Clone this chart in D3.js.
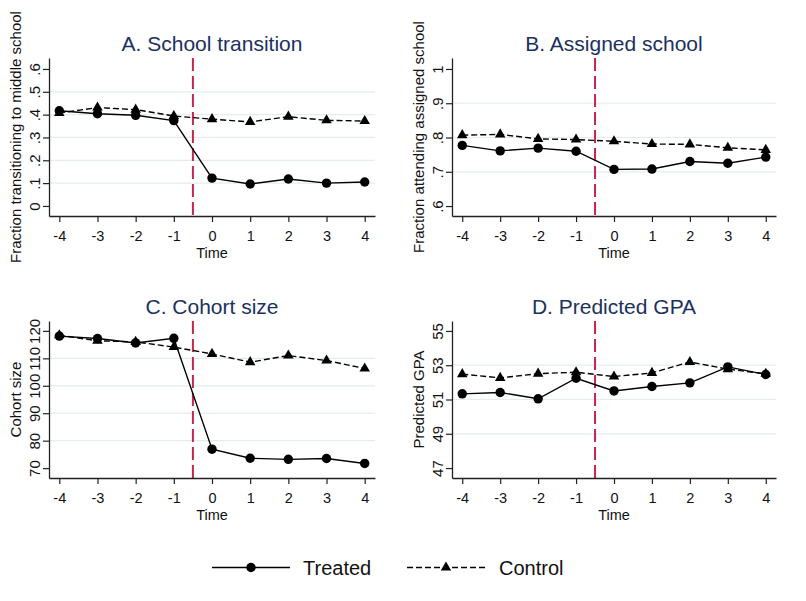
<!DOCTYPE html>
<html>
<head>
<meta charset="utf-8">
<script src="https://cdn.jsdelivr.net/npm/d3@7"></script>
<style>
  html, body { margin: 0; padding: 0; background: #fff; }
  svg { display: block; font-family: "Liberation Sans", Arial, sans-serif; }
</style>
</head>
<body>
<svg id="chart" width="806" height="601"></svg>
<script>
// ---- Data ----
const times = [-4, -3, -2, -1, 0, 1, 2, 3, 4];

const panelTitles = ["A. School transition", "B. Assigned school", "C. Cohort size", "D. Predicted GPA"];
const yTitles = ["Fraction transitioning to middle school", "Fraction attending assigned school", "Cohort size", "Predicted GPA"];

const treatedA = [0.417, 0.404, 0.397, 0.374, 0.122, 0.096, 0.118, 0.100, 0.105];
const controlA = [0.407, 0.431, 0.422, 0.394, 0.380, 0.368, 0.391, 0.375, 0.372];

const treatedB = [0.777, 0.761, 0.769, 0.760, 0.707, 0.708, 0.730, 0.725, 0.743];
const controlB = [0.807, 0.809, 0.796, 0.794, 0.789, 0.781, 0.780, 0.770, 0.764];

const treatedC = [118.1, 117.2, 115.6, 117.3, 76.9, 73.6, 73.2, 73.5, 71.7];
const controlC = [118.4, 116.4, 116.0, 114.1, 111.6, 108.6, 111.0, 109.2, 106.3];

const treatedD = [51.33, 51.41, 51.04, 52.24, 51.50, 51.76, 51.97, 52.90, 52.46];
const controlD = [52.48, 52.26, 52.51, 52.59, 52.34, 52.55, 53.19, 52.77, 52.50];

const yTicksA = [0, 0.1, 0.2, 0.3, 0.4, 0.5, 0.6];
const yTickLabelsA = ["0", ".1", ".2", ".3", ".4", ".5", ".6"];
const yTicksB = [0.6, 0.7, 0.8, 0.9, 1];
const yTickLabelsB = [".6", ".7", ".8", ".9", "1"];
const yTicksC = [70, 80, 90, 100, 110, 120];
const yTickLabelsC = ["70", "80", "90", "100", "110", "120"];
const yTicksD = [47, 49, 51, 53, 55];
const yTickLabelsD = ["47", "49", "51", "53", "55"];

const eventTime = -0.5;
const legendLabels = ["Treated", "Control"];

// ---- Layout ----
const svg = d3.select("#chart");
const titleColor = "#1b3160";
const gridColor = "#e3ecef";
const refColor = "#c8264e";

const panels = [
  { title: panelTitles[0], ytitle: yTitles[0], treated: treatedA, control: controlA, ticks: yTicksA, labels: yTickLabelsA,
    ydom: [-0.044, 0.648], x0: 49, x1: 375, y0: 58, y1: 216 },
  { title: panelTitles[1], ytitle: yTitles[1], treated: treatedB, control: controlB, ticks: yTicksB, labels: yTickLabelsB,
    ydom: [0.571, 1.032], x0: 452, x1: 776, y0: 58, y1: 216 },
  { title: panelTitles[2], ytitle: yTitles[2], treated: treatedC, control: controlC, ticks: yTicksC, labels: yTickLabelsC,
    ydom: [66.4, 123.6], x0: 49, x1: 375, y0: 321, y1: 478 },
  { title: panelTitles[3], ytitle: yTitles[3], treated: treatedD, control: controlD, ticks: yTicksD, labels: yTickLabelsD,
    ydom: [46.42, 55.58], x0: 452, x1: 776, y0: 321, y1: 478 }
];

const circleSym = d3.symbol().type(d3.symbolCircle).size(70);
const triSym = d3.symbol().type(d3.symbolTriangle).size(48);

panels.forEach(p => {
  const x = d3.scaleLinear().domain([-4.27, 4.27]).range([p.x0, p.x1]);
  const y = d3.scaleLinear().domain(p.ydom).range([p.y1, p.y0]);
  const g = svg.append("g");

  // gridlines (interior ticks only)
  g.append("g").selectAll("line")
    .data(p.ticks.slice(1, -1))
    .join("line")
    .attr("x1", p.x0).attr("x2", p.x1)
    .attr("y1", d => y(d)).attr("y2", d => y(d))
    .attr("stroke", gridColor).attr("stroke-width", 1.2);

  // reference line
  g.append("line")
    .attr("x1", x(eventTime)).attr("x2", x(eventTime))
    .attr("y1", p.y0).attr("y2", p.y1)
    .attr("stroke", refColor).attr("stroke-width", 2)
    .attr("stroke-dasharray", "13,5");

  // x axis
  const xAxis = d3.axisBottom(x).tickValues(times).tickSize(6).tickSizeOuter(0)
    .tickFormat(d3.format("d"));
  const gx = g.append("g").attr("transform", `translate(0,${p.y1})`).call(xAxis);
  gx.select(".domain").attr("stroke", "#222").attr("stroke-width", 1.3);
  gx.selectAll(".tick line").attr("stroke", "#222").attr("stroke-width", 1.2);
  gx.selectAll(".tick text")
    .attr("y", 25).attr("dy", 0)
    .attr("font-size", 14.5).attr("fill", "#111")
    .attr("font-family", "Liberation Sans, Arial, sans-serif")
    .text(d => d < 0 ? "-" + Math.abs(d) : String(d));

  g.append("text")
    .attr("x", (p.x0 + p.x1) / 2).attr("y", p.y1 + 41.5)
    .attr("text-anchor", "middle").attr("font-size", 14.5).attr("fill", "#111")
    .text("Time");

  // y axis
  const yAxis = d3.axisLeft(y).tickValues(p.ticks).tickSize(6).tickSizeOuter(0)
    .tickFormat((d, i) => p.labels[i]);
  const gy = g.append("g").attr("transform", `translate(${p.x0},0)`).call(yAxis);
  gy.select(".domain").attr("stroke", "#222").attr("stroke-width", 1.3);
  gy.selectAll(".tick line").attr("stroke", "#222").attr("stroke-width", 1.2);
  gy.selectAll(".tick text")
    .attr("transform", "rotate(-90)")
    .attr("x", 0).attr("y", -9.5).attr("dy", 0)
    .attr("text-anchor", "middle")
    .attr("font-size", 15).attr("fill", "#111")
    .attr("font-family", "Liberation Sans, Arial, sans-serif");

  g.append("text")
    .attr("transform", `translate(${p.x0 - 28},${(p.y0 + p.y1) / 2}) rotate(-90)`)
    .attr("text-anchor", "middle").attr("font-size", 15).attr("fill", "#111")
    .text(p.ytitle);

  // title
  g.append("text")
    .attr("x", (p.x0 + p.x1) / 2).attr("y", p.y0 - 7)
    .attr("text-anchor", "middle").attr("font-size", 21).attr("fill", titleColor)
    .text(p.title);

  // lines
  const line = d3.line().x((d, i) => x(times[i])).y(d => y(d));
  g.append("path").datum(p.control).attr("d", line)
    .attr("fill", "none").attr("stroke", "#000").attr("stroke-width", 1.4)
    .attr("stroke-dasharray", "6,3");
  g.append("path").datum(p.treated).attr("d", line)
    .attr("fill", "none").attr("stroke", "#000").attr("stroke-width", 1.4);

  g.append("g").selectAll("path").data(p.control).join("path")
    .attr("d", triSym)
    .attr("transform", (d, i) => `translate(${x(times[i])},${y(d)})`)
    .attr("fill", "#000");
  g.append("g").selectAll("path").data(p.treated).join("path")
    .attr("d", circleSym)
    .attr("transform", (d, i) => `translate(${x(times[i])},${y(d)})`)
    .attr("fill", "#000");
});

// ---- Legend ----
const lg = svg.append("g");
const ly = 567.5;
lg.append("line").attr("x1", 212).attr("x2", 290).attr("y1", ly).attr("y2", ly)
  .attr("stroke", "#000").attr("stroke-width", 1.4);
lg.append("path").attr("d", circleSym).attr("transform", `translate(251,${ly})`).attr("fill", "#000");
lg.append("text").attr("x", 303).attr("y", ly + 7).attr("font-size", 20).attr("fill", "#111").text(legendLabels[0]);

lg.append("line").attr("x1", 407).attr("x2", 486).attr("y1", ly).attr("y2", ly)
  .attr("stroke", "#000").attr("stroke-width", 1.4).attr("stroke-dasharray", "6,3");
lg.append("path").attr("d", triSym).attr("transform", `translate(446,${ly})`).attr("fill", "#000");
lg.append("text").attr("x", 499).attr("y", ly + 7).attr("font-size", 20).attr("fill", "#111").text(legendLabels[1]);
</script>
</body>
</html>
